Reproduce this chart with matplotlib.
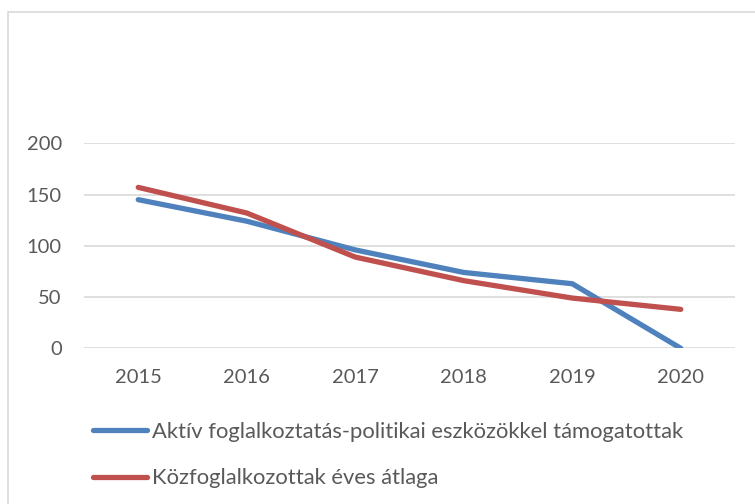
import matplotlib
matplotlib.use("Agg")
import matplotlib.pyplot as plt
from matplotlib.patches import Rectangle
from matplotlib.ticker import MultipleLocator

plt.rcParams["font.family"] = ["Lato", "DejaVu Sans"]

# adatok
years = ["2015", "2016", "2017", "2018", "2019", "2020"]
aktiv = [145, 124, 96, 74, 63, 0]
kozfoglalkozott = [157, 132, 89, 66, 49, 38]
labels = ["Aktív foglalkoztatás-politikai eszközökkel támogatottak",
          "Közfoglalkozottak éves átlaga"]

W, H = 755, 504
fig = plt.figure(figsize=(W / 100, H / 100), dpi=100)

# keret
fig.patches.append(Rectangle((8 / W, -0.1), 2, 1 - 12 / H + 0.1,
                             transform=fig.transFigure, fill=False,
                             edgecolor="#d9d9d9", linewidth=1.2))

ax = fig.add_axes([84 / W, 1 - 348.3 / H, (735 - 84) / W, (348.3 - 143.3) / H])

x = range(len(years))
ax.plot(x, aktiv, color="#4f81bd", linewidth=3.8, solid_capstyle="round",
        solid_joinstyle="round", label=labels[0])
ax.plot(x, kozfoglalkozott, color="#c0504d", linewidth=3.8, solid_capstyle="round",
        solid_joinstyle="round", label=labels[1])

ax.set_xlim(-0.5, len(years) - 0.5)
ax.set_ylim(0, 200)
ax.yaxis.set_major_locator(MultipleLocator(50))
ax.set_xticks(list(x))
ax.set_xticklabels(years)
ax.grid(axis="y", color="#d9d9d9", linewidth=1.2)
ax.set_axisbelow(True)
for s in ax.spines.values():
    s.set_visible(False)
ax.tick_params(axis="both", length=0, labelsize=14.5, colors="#595959")
ax.tick_params(axis="y", pad=16)
ax.tick_params(axis="x", pad=15)

leg = ax.legend(loc="upper left", bbox_to_anchor=(93 / W, 1 - 422 / H),
                bbox_transform=fig.transFigure, frameon=False, fontsize=15.8,
                handlelength=2.45, handletextpad=0.25, labelspacing=1.2,
                borderaxespad=0, borderpad=0)
for t in leg.get_texts():
    t.set_color("#595959")

fig.savefig("out.png", dpi=100)
